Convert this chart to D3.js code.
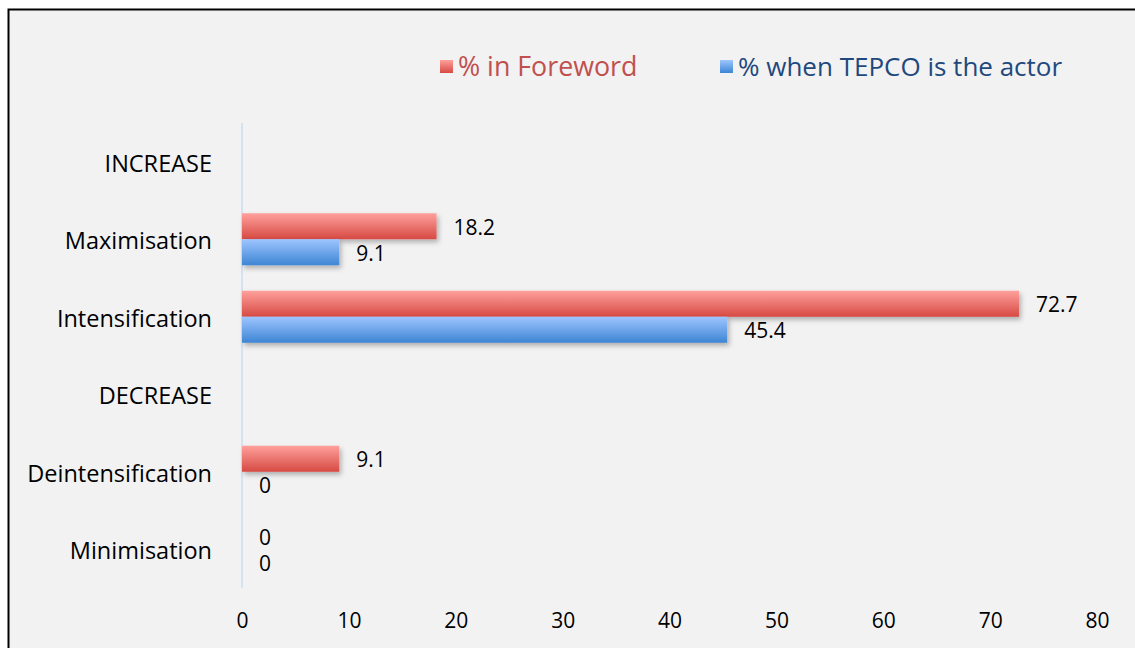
<!DOCTYPE html>
<html>
<head>
<meta charset="utf-8">
<script src="https://cdn.jsdelivr.net/npm/d3@7"></script>
<style>
  html, body { margin: 0; padding: 0; background: #ffffff; }
  svg { display: block; font-family: "Open Sans", Lato, sans-serif; }
</style>
</head>
<body>
<svg id="chart" width="1135" height="648"></svg>
<script>
// Categories, top to bottom
const categories = ["INCREASE", "Maximisation", "Intensification", "DECREASE", "Deintensification", "Minimisation"];
// Series values (null = no bar, no label)
const foreword = [null, 18.2, 72.7, null, 9.1, 0];
const tepco = [null, 9.1, 45.4, null, 0, 0];
const seriesNames = ["% in Foreword", "% when TEPCO is the actor"];
const xTicks = [0, 10, 20, 30, 40, 50, 60, 70, 80];

const svg = d3.select("#chart");
const W = 1135, H = 648;

// Frame
svg.append("rect")
  .attr("x", 8.5).attr("y", 9.5)
  .attr("width", W + 10).attr("height", H + 10)
  .attr("fill", "#f2f2f2")
  .attr("stroke", "#000").attr("stroke-width", 2);

const defs = svg.append("defs");
function grad(id, top, bottom) {
  const g = defs.append("linearGradient").attr("id", id)
    .attr("x1", 0).attr("y1", 0).attr("x2", 0).attr("y2", 1);
  g.append("stop").attr("offset", "0%").attr("stop-color", top);
  g.append("stop").attr("offset", "100%").attr("stop-color", bottom);
}
grad("gRed", "#ffa09c", "#d64a43");
grad("gBlue", "#9ec5ff", "#3d85d4");
const f = defs.append("filter").attr("id", "shadow")
  .attr("x", "-5%").attr("y", "-20%").attr("width", "115%").attr("height", "160%");
f.append("feDropShadow").attr("dx", 2).attr("dy", 3).attr("stdDeviation", 2.5)
  .attr("flood-color", "#000").attr("flood-opacity", 0.28);

const x = d3.scaleLinear().domain([0, 80]).range([242, 1097]);
const y = d3.scaleBand().domain(categories).range([123, 588]).paddingInner(0).paddingOuter(0);
const barH = 26;

// Category axis line
svg.append("line")
  .attr("x1", x(0)).attr("x2", x(0))
  .attr("y1", y.range()[0]).attr("y2", y.range()[1])
  .attr("stroke", "#d5e2f3").attr("stroke-width", 2);

// Value axis (labels only)
const xAxis = d3.axisBottom(x).tickValues(xTicks).tickSize(0).tickPadding(0);
const gx = svg.append("g").attr("transform", "translate(0,621)").call(xAxis);
gx.select(".domain").remove();
gx.selectAll("text")
  .attr("dy", "0.35em")
  .attr("font-family", "'Open Sans', Lato, sans-serif")
  .attr("font-size", 21).attr("fill", "#000");

// Category labels
svg.append("g").selectAll("text")
  .data(categories).join("text")
  .attr("x", 212)
  .attr("y", d => y(d) + y.bandwidth() / 2 + 2)
  .attr("dy", "0.35em")
  .attr("text-anchor", "end")
  .attr("font-size", 23.5).attr("fill", "#000")
  .text(d => d);

const series = [
  { values: foreword, fill: "url(#gRed)", offset: -barH },
  { values: tepco, fill: "url(#gBlue)", offset: 0 }
];

series.forEach(s => {
  const data = categories.map((c, i) => ({ c, v: s.values[i] })).filter(d => d.v !== null);
  const g = svg.append("g");
  g.selectAll("rect")
    .data(data.filter(d => d.v > 0)).join("rect")
    .attr("x", x(0))
    .attr("y", d => y(d.c) + y.bandwidth() / 2 + s.offset)
    .attr("width", d => x(d.v) - x(0))
    .attr("height", barH)
    .attr("fill", s.fill)
    .attr("filter", "url(#shadow)");
  g.selectAll("text")
    .data(data).join("text")
    .attr("x", d => x(d.v) + 17)
    .attr("y", d => y(d.c) + y.bandwidth() / 2 + s.offset + barH / 2 + 1)
    .attr("dy", "0.35em")
    .attr("font-size", 21).attr("fill", "#000")
    .text(d => d3.format("")(d.v));
});

// Legend
const legend = [
  { name: seriesNames[0], fill: "url(#gRed)", color: "#c0504d", x: 440, size: 26.8 },
  { name: seriesNames[1], fill: "url(#gBlue)", color: "#1f497d", x: 720, size: 26 }
];
const lg = svg.append("g").selectAll("g").data(legend).join("g")
  .attr("transform", d => `translate(${d.x},60)`);
lg.append("rect").attr("width", 13).attr("height", 13).attr("fill", d => d.fill);
lg.append("text")
  .attr("x", 18).attr("y", 7).attr("dy", "0.35em")
  .attr("font-size", d => d.size).attr("fill", d => d.color)
  .text(d => d.name);
</script>
</body>
</html>
